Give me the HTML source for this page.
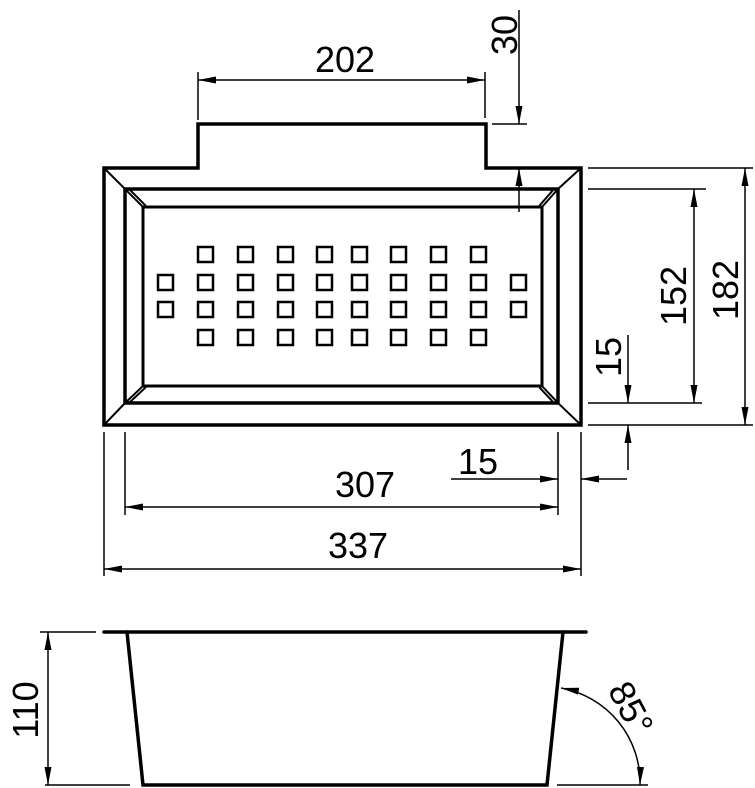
<!DOCTYPE html>
<html><head><style>html,body{margin:0;padding:0;background:#fff}svg{display:block}</style></head>
<body>
<svg width="755" height="788" viewBox="0 0 755 788" xmlns="http://www.w3.org/2000/svg">
<defs>
<marker id="a" viewBox="0 0 18 7" refX="18" refY="3.5" markerWidth="18" markerHeight="7" markerUnits="userSpaceOnUse" orient="auto-start-reverse"><path d="M0,0 L18,3.5 L0,7 Z" fill="#000"/></marker>
</defs>
<g fill="none" stroke="#000" stroke-linecap="square">
<path d="M104,168 L198,168 L198,124 L486,124 L486,168 L581,168 L581,425 L104,425 Z" stroke-width="3.5"/>
<rect x="125" y="189" width="433" height="214" stroke-width="3.5"/>
<rect x="143" y="207" width="399" height="179" stroke-width="3"/>
<g stroke-width="2">
<line x1="104" y1="168" x2="125" y2="189"/><line x1="581" y1="168" x2="558" y2="189"/>
<line x1="104" y1="425" x2="125" y2="403"/><line x1="581" y1="425" x2="558" y2="403"/>
<line x1="125" y1="189" x2="143" y2="207"/><line x1="129" y1="189" x2="145" y2="205"/>
<line x1="558" y1="189" x2="542" y2="207"/><line x1="554" y1="189" x2="540" y2="205"/>
<line x1="125" y1="403" x2="143" y2="386"/><line x1="129" y1="403" x2="145" y2="388"/>
<line x1="558" y1="403" x2="542" y2="386"/><line x1="554" y1="403" x2="540" y2="388"/>
</g>
<g stroke-width="2.5">
<rect x="198" y="247" width="15" height="15"/><rect x="238" y="247" width="15" height="15"/><rect x="278" y="247" width="15" height="15"/><rect x="317" y="247" width="15" height="15"/><rect x="352" y="247" width="15" height="15"/><rect x="391" y="247" width="15" height="15"/><rect x="431" y="247" width="15" height="15"/><rect x="471" y="247" width="15" height="15"/>
<rect x="198" y="330" width="15" height="15"/><rect x="238" y="330" width="15" height="15"/><rect x="278" y="330" width="15" height="15"/><rect x="317" y="330" width="15" height="15"/><rect x="352" y="330" width="15" height="15"/><rect x="391" y="330" width="15" height="15"/><rect x="431" y="330" width="15" height="15"/><rect x="471" y="330" width="15" height="15"/>
<rect x="158" y="275" width="15" height="15"/><rect x="198" y="275" width="15" height="15"/><rect x="238" y="275" width="15" height="15"/><rect x="278" y="275" width="15" height="15"/><rect x="317" y="275" width="15" height="15"/><rect x="352" y="275" width="15" height="15"/><rect x="391" y="275" width="15" height="15"/><rect x="431" y="275" width="15" height="15"/><rect x="471" y="275" width="15" height="15"/><rect x="511" y="275" width="15" height="15"/>
<rect x="158" y="302" width="15" height="15"/><rect x="198" y="302" width="15" height="15"/><rect x="238" y="302" width="15" height="15"/><rect x="278" y="302" width="15" height="15"/><rect x="317" y="302" width="15" height="15"/><rect x="352" y="302" width="15" height="15"/><rect x="391" y="302" width="15" height="15"/><rect x="431" y="302" width="15" height="15"/><rect x="471" y="302" width="15" height="15"/><rect x="511" y="302" width="15" height="15"/>
</g>
</g>
<g stroke="#000" stroke-width="1.5" fill="none" stroke-linecap="butt">
<line x1="198" y1="72" x2="198" y2="120"/><line x1="485" y1="72" x2="485" y2="118"/>
<line x1="340" y1="80" x2="198" y2="80" marker-end="url(#a)"/><line x1="340" y1="80" x2="485" y2="80" marker-end="url(#a)"/>
<line x1="492" y1="124" x2="527" y2="124"/>
<line x1="519" y1="10" x2="519" y2="124" marker-end="url(#a)"/>
<line x1="519" y1="212" x2="519" y2="168" marker-end="url(#a)"/>
<line x1="588" y1="168" x2="753" y2="168"/><line x1="588" y1="189" x2="706" y2="189"/>
<line x1="588" y1="403" x2="702" y2="403"/><line x1="588" y1="425" x2="753" y2="425"/>
<line x1="694" y1="296" x2="694" y2="189" marker-end="url(#a)"/><line x1="694" y1="296" x2="694" y2="403" marker-end="url(#a)"/>
<line x1="745" y1="296" x2="745" y2="168" marker-end="url(#a)"/><line x1="745" y1="296" x2="745" y2="425" marker-end="url(#a)"/>
<line x1="628" y1="335" x2="628" y2="403" marker-end="url(#a)"/><line x1="628" y1="470" x2="628" y2="425" marker-end="url(#a)"/>
<line x1="104" y1="432" x2="104" y2="576"/><line x1="125" y1="432" x2="125" y2="515"/>
<line x1="558" y1="432" x2="558" y2="515"/><line x1="581" y1="432" x2="581" y2="576"/>
<line x1="340" y1="507" x2="125" y2="507" marker-end="url(#a)"/><line x1="340" y1="507" x2="558" y2="507" marker-end="url(#a)"/>
<line x1="340" y1="569" x2="104" y2="569" marker-end="url(#a)"/><line x1="340" y1="569" x2="581" y2="569" marker-end="url(#a)"/>
<line x1="451" y1="479" x2="558" y2="479" marker-end="url(#a)"/><line x1="627" y1="479" x2="581" y2="479" marker-end="url(#a)"/>
<line x1="40" y1="632" x2="96" y2="632"/><line x1="45" y1="785" x2="130" y2="785"/>
<line x1="48" y1="708" x2="48" y2="632" marker-end="url(#a)"/><line x1="48" y1="708" x2="48" y2="785" marker-end="url(#a)"/>
<line x1="557" y1="785" x2="648" y2="785"/>
<path d="M561,688 A96 96 0 0 1 640,785" marker-start="url(#a)" marker-end="url(#a)"/>
</g>
<g stroke="#000" fill="none" stroke-width="3.5" stroke-linecap="round">
<line x1="104" y1="632" x2="586" y2="632"/>
<path d="M127,632 L143,785 L547,785 L563,632"/>
</g>
<g font-family="'Liberation Sans',sans-serif" font-size="36" fill="#000" text-anchor="middle">
<text x="345" y="72">202</text>
<text x="365" y="497">307</text>
<text x="358" y="558">337</text>
<text x="478" y="474">15</text>
<text transform="translate(517,35) rotate(-90)">30</text>
<text transform="translate(686,296) rotate(-90)">152</text>
<text transform="translate(738,290) rotate(-90)">182</text>
<text transform="translate(621,357) rotate(-90)">15</text>
<text transform="translate(38,710) rotate(-90)">110</text>
<text transform="translate(620,714) rotate(62)">85°</text>
</g>
</svg>
</body></html>
